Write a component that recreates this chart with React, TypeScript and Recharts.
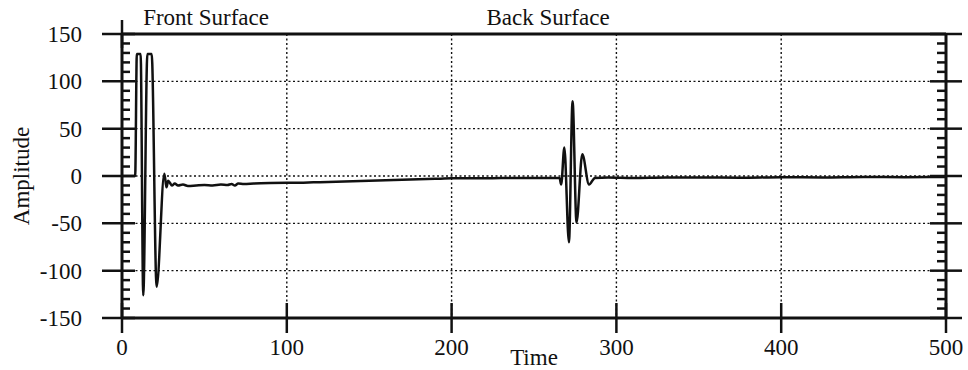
import { CartesianGrid, Line, LineChart, ReferenceDot, XAxis, YAxis } from "recharts"

const times = [
  0, 8, 9, 11.3, 12.9, 15.4, 18, 21, 25.7, 27, 28, 29, 30.3, 32, 34, 37, 40, 45, 50, 55, 60, 64,
  66.5, 68.5, 70.5, 74, 80, 90, 100, 110, 120, 130, 140, 150, 160, 170, 180, 190, 200, 215, 230,
  245, 260, 265.5, 266.5, 268.4, 271.2, 273.4, 275.8, 279.3, 283.4, 287, 295, 310, 330, 350, 375,
  400, 425, 450, 475, 500,
]

const amplitudes = [
  0, 0, 129, 129, -126, 129, 129, -117, 2.5, -12, -5, -7, -10, -8, -10, -9, -10.5, -10, -9.5, -10,
  -9, -9.5, -8.5, -10, -8, -8.5, -8, -7.5, -7.2, -7, -6.5, -6, -5.5, -5, -4.5, -4, -3.5, -3, -2.5,
  -2.5, -2, -2, -2, -2, -9, 30, -70, 79, -49, 23, -9, -2, -1.5, -2, -1.5, -1.5, -1.8, -1.2, -1.5,
  -1, -1.2, -1,
]

const xTicks = [0, 100, 200, 300, 400, 500]
const yLabels = [-150, -100, -50, 0, 50, 100, 150]
const yTicks = [
  -150, -140, -130, -120, -110, -100, -90, -80, -70, -60, -50, -40, -30, -20, -10, 0, 10, 20, 30,
  40, 50, 60, 70, 80, 90, 100, 110, 120, 130, 140, 150,
]

const annotations = [
  { time: 51, text: "Front Surface" },
  { time: 258.5, text: "Back Surface" },
]

const data = times.map((t, i) => ({ time: t, amplitude: amplitudes[i] }))

const ink = "#111"
const font = "'Liberation Serif', 'Times New Roman', serif"

const LeftTick = ({ x, y, payload }: any) => {
  const major = yLabels.includes(payload.value)
  return (
    <g>
      {major ? (
        <>
          <line x1={x - 20} x2={x + 13} y1={y} y2={y} stroke={ink} strokeWidth={2.5} />
          <text
            x={x - 40}
            y={y}
            dy="0.35em"
            textAnchor="end"
            fontSize={23}
            fontFamily={font}
            fill={ink}
          >
            {payload.value}
          </text>
        </>
      ) : (
        <line x1={x - 1} x2={x + 8} y1={y} y2={y} stroke={ink} strokeWidth={2.5} />
      )}
    </g>
  )
}

const RightTick = ({ x, y, payload }: any) => {
  const major = yLabels.includes(payload.value)
  return major ? (
    <line x1={x - 16} x2={x + 16} y1={y} y2={y} stroke={ink} strokeWidth={2.5} />
  ) : (
    <line x1={x - 9} x2={x + 1} y1={y} y2={y} stroke={ink} strokeWidth={2.5} />
  )
}

const BottomTick = ({ x, y, payload }: any) => (
  <g>
    <line x1={x} x2={x} y1={y - 15} y2={y + 15} stroke={ink} strokeWidth={2.5} />
    <text x={x} y={y + 37} textAnchor="middle" fontSize={23} fontFamily={font} fill={ink}>
      {payload.value}
    </text>
  </g>
)

const TopTick = ({ x, y }: any) => (
  <line x1={x} x2={x} y1={y - 14} y2={y + 14} stroke={ink} strokeWidth={2.5} />
)

const AmplitudeLabel = ({ viewBox }: any) => {
  const cx = 29
  const cy = viewBox.y + viewBox.height / 2
  return (
    <text
      x={cx}
      y={cy}
      transform={`rotate(-90, ${cx}, ${cy})`}
      textAnchor="middle"
      fontSize={23}
      fontFamily={font}
      fill={ink}
    >
      Amplitude
    </text>
  )
}

export default function App() {
  return (
    <div style={{ position: "absolute", left: 0, top: 0 }}>
      <LineChart
        width={968}
        height={370}
        data={data}
        margin={{ top: 0, right: 0, bottom: 0, left: 0 }}
        style={{ fontFamily: font, background: "#fff" }}
      >
        <CartesianGrid
          stroke={ink}
          strokeWidth={1.4}
          strokeDasharray="2 2.5"
          horizontalValues={yLabels}
          verticalValues={xTicks}
        />
        <XAxis
          dataKey="time"
          type="number"
          domain={[0, 500]}
          ticks={xTicks}
          interval={0}
          height={52}
          tickSize={0}
          tickMargin={0}
          tickLine={false}
          axisLine={{ stroke: ink, strokeWidth: 3 }}
          tick={<BottomTick />}
          label={{
            value: "Time",
            position: "insideBottom",
            offset: 5,
            fontSize: 23,
            fontFamily: font,
            fill: ink,
          }}
        />
        <XAxis
          xAxisId="top"
          orientation="top"
          type="number"
          domain={[0, 500]}
          allowDataOverflow
          ticks={xTicks}
          interval={0}
          height={34}
          tickSize={0}
          tickMargin={0}
          tickLine={false}
          axisLine={{ stroke: ink, strokeWidth: 3 }}
          tick={<TopTick />}
        />
        <YAxis
          type="number"
          domain={[-150, 150]}
          ticks={yTicks}
          interval={0}
          width={122}
          tickSize={0}
          tickMargin={0}
          tickLine={false}
          axisLine={{ stroke: ink, strokeWidth: 3 }}
          tick={<LeftTick />}
          label={<AmplitudeLabel />}
        />
        <YAxis
          yAxisId="right"
          orientation="right"
          type="number"
          domain={[-150, 150]}
          allowDataOverflow
          ticks={yTicks}
          interval={0}
          width={22}
          tickSize={0}
          tickMargin={0}
          tickLine={false}
          axisLine={{ stroke: ink, strokeWidth: 3 }}
          tick={<RightTick />}
        />
        {annotations.map((a) => (
          <ReferenceDot
            key={a.text}
            x={a.time}
            y={150}
            r={0}
            stroke="none"
            fill="none"
            label={{
              value: a.text,
              position: "top",
              offset: 9,
              fontSize: 23,
              fontFamily: font,
              fill: ink,
            }}
          />
        ))}
        <Line
          type="monotone"
          dataKey="amplitude"
          stroke={ink}
          strokeWidth={2.5}
          dot={false}
          isAnimationActive={false}
        />
      </LineChart>
    </div>
  )
}
